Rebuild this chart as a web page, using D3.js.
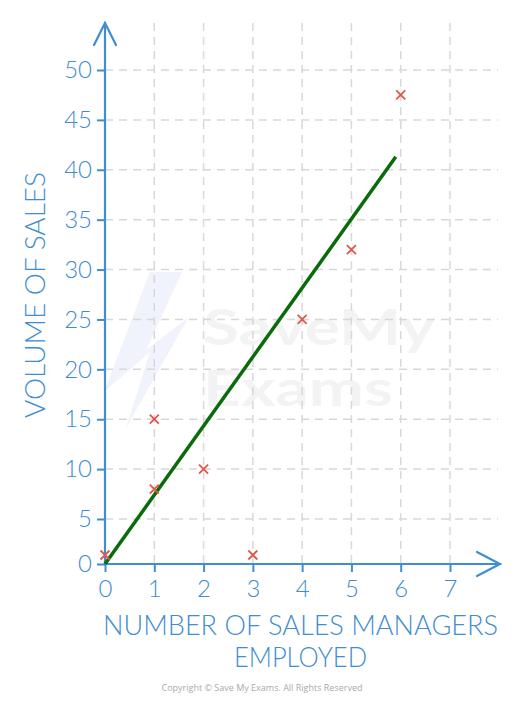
<!DOCTYPE html>
<html>
<head>
<meta charset="utf-8">
<script src="https://cdn.jsdelivr.net/npm/d3@7"></script>
<style>
  body { margin: 0; background: #fff; }
  svg { display: block; }
  .tick text { font-family: Lato, "Open Sans", sans-serif; font-weight: 300; fill: #3d8bd2; }
</style>
</head>
<body>
<svg id="chart" width="527" height="706"></svg>
<script>
// data
let managers = [0, 1, 1, 2, 3, 4, 5, 6];
let sales = [1, 8, 15, 10, 1, 25, 32, 47.5];
// line of best fit (start / end)
let fitX = [0, 5.9];
let fitY = [0, 41.3];
let xTicks = [0, 1, 2, 3, 4, 5, 6, 7];
let yTicks = [0, 5, 10, 15, 20, 25, 30, 35, 40, 45, 50];

let blue = "#3f8dd2";
let svg = d3.select("#chart");

// scales
let x = d3.scaleLinear().domain([0, 7]).range([105, 450]);
let y = d3.scaleLinear().domain([0, 5, 50]).range([564, 519, 70]);

let xEnd = x(7) + 50, yTop = y(50) - 47;

// watermark
let wm = svg.append("g");
wm.append("path")
  .attr("d", "M150,272 L104,392 L150,352 L126,428 L188,318 L146,350 L182,272 Z")
  .attr("fill", "#f0f2fc");
wm.append("text").attr("x", 203).attr("y", 345)
  .attr("font-family", "Lato, sans-serif").attr("font-weight", 700)
  .attr("font-size", 49).attr("fill", "#f3f3f3")
  .attr("textLength", 232).attr("lengthAdjust", "spacingAndGlyphs")
  .text("SaveMy");
wm.append("text").attr("x", 203).attr("y", 406)
  .attr("font-family", "Lato, sans-serif").attr("font-weight", 700)
  .attr("font-size", 49).attr("fill", "#f3f3f3")
  .attr("textLength", 190).attr("lengthAdjust", "spacingAndGlyphs")
  .text("Exams");

// grid
let grid = svg.append("g")
  .attr("stroke", "#d8d8d8").attr("stroke-width", 1.5)
  .attr("stroke-dasharray", "8,6");
grid.selectAll(".gx").data(xTicks.filter(d => d > 0)).enter()
  .append("line")
  .attr("x1", d => x(d)).attr("x2", d => x(d))
  .attr("y1", yTop).attr("y2", y(0));
grid.selectAll(".gy").data(yTicks.filter(d => d > 0)).enter()
  .append("line")
  .attr("y1", d => y(d)).attr("y2", d => y(d))
  .attr("x1", x(0)).attr("x2", xEnd - 2);

// axes with ticks
let xAxis = svg.append("g")
  .attr("transform", "translate(0," + y(0) + ")")
  .call(d3.axisBottom(x).tickValues(xTicks).tickFormat(d3.format("d")).tickSize(8).tickPadding(8));
xAxis.select(".domain").remove();
xAxis.selectAll("text").attr("font-size", 24).attr("dy", "0.72em");

let yAxis = svg.append("g")
  .attr("transform", "translate(" + x(0) + ",0)")
  .call(d3.axisLeft(y).tickValues(yTicks).tickFormat(d3.format("d")).tickSize(8).tickPadding(5));
yAxis.select(".domain").remove();
yAxis.selectAll("text").attr("font-size", 24);

svg.selectAll(".tick line").attr("stroke", blue).attr("stroke-width", 2);

// axis lines + arrows
let ax = svg.append("g").attr("stroke", blue).attr("stroke-width", 2.2)
  .attr("fill", "none").attr("stroke-linecap", "round");
ax.append("line").attr("x1", x(0)).attr("x2", x(0)).attr("y1", y(0)).attr("y2", yTop);
ax.append("line").attr("x1", x(0)).attr("x2", xEnd).attr("y1", y(0)).attr("y2", y(0));
ax.append("path").attr("d", "M" + (x(0) - 11) + "," + (yTop + 22) + " L" + x(0) + "," + yTop + " L" + (x(0) + 11) + "," + (yTop + 22));
ax.append("path").attr("d", "M" + (xEnd - 23) + "," + (y(0) - 12) + " L" + xEnd + "," + y(0) + " L" + (xEnd - 23) + "," + (y(0) + 12));

// axis titles
function title(tx, ty, len, txt, rot) {
  svg.append("text")
    .attr("transform", "translate(" + tx + "," + ty + ")" + (rot ? " rotate(-90)" : ""))
    .attr("font-family", "Lato, sans-serif").attr("font-weight", 300)
    .attr("font-size", 27).attr("fill", blue)
    .attr("textLength", len).attr("lengthAdjust", "spacingAndGlyphs")
    .text(txt);
}
title(103, 635, 395, "NUMBER OF SALES MANAGERS");
title(234, 667, 133, "EMPLOYED");
title(45, 418, 246, "VOLUME OF SALES", true);

// line of best fit
svg.append("line")
  .attr("x1", x(fitX[0])).attr("y1", y(fitY[0]))
  .attr("x2", x(fitX[1])).attr("y2", y(fitY[1]))
  .attr("stroke", "#0b6b0b").attr("stroke-width", 3.5);

// points as crosses
let pts = managers.map((m, i) => ({ m: m, s: sales[i] }));
let r = 4.5;
svg.append("g").attr("stroke", "#e0574c").attr("stroke-width", 1.8)
  .selectAll("path").data(pts).enter()
  .append("path")
  .attr("d", d => {
    let cx = x(d.m), cy = y(d.s);
    return "M" + (cx - r) + "," + (cy - r) + "L" + (cx + r) + "," + (cy + r) +
      "M" + (cx - r) + "," + (cy + r) + "L" + (cx + r) + "," + (cy - r);
  });

// copyright
svg.append("text").attr("x", 262).attr("y", 691).attr("text-anchor", "middle")
  .attr("font-family", "Open Sans, sans-serif").attr("font-size", 9).attr("fill", "#aaa")
  .text("Copyright \u00a9 Save My Exams. All Rights Reserved");
</script>
</body>
</html>
